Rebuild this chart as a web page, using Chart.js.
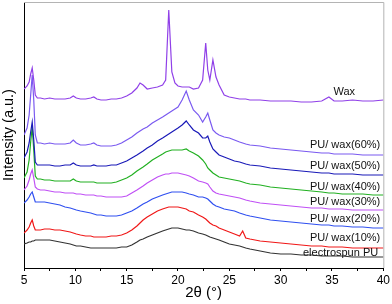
<!DOCTYPE html>
<html>
<head>
<meta charset="utf-8">
<script src="https://cdn.jsdelivr.net/npm/chart.js@4"></script>
<style>
  html, body { margin: 0; padding: 0; background: #fff; }
  #wrap { width: 392px; height: 304px; }
</style>
</head>
<body>
<div id="wrap"><canvas id="xrd"></canvas></div>
<script>
// 2θ grid (degrees)
const theta = [5, 5.3, 5.5, 5.65, 5.8, 5.95, 6.1, 6.3, 6.6, 7,
  7.5, 8, 8.5, 9, 9.5, 9.8, 10.1, 10.5, 11, 11.5,
  11.8, 12.1, 12.5, 13, 13.5, 14, 14.5, 15, 15.5, 16,
  16.3, 16.6, 17, 17.5, 18, 18.5, 18.8, 19.1, 19.4, 19.7,
  20, 20.4, 20.8, 21.1, 21.5, 22, 22.4, 22.7, 22.9, 23.1,
  23.4, 23.7, 24, 24.5, 25, 25.5, 26, 26.3, 26.6, 27,
  28, 29, 30, 31, 32, 33, 34, 34.7, 35.2, 36,
  37, 38, 39, 40];

// intensities (a.u., curves offset as in the figure)
const wax = [179, 182, 186, 194, 200, 188, 173, 170, 170, 169,
  170, 169, 169, 169, 170, 172, 170, 169, 169, 170,
  171, 169, 168, 168, 169, 169, 170, 172, 175, 180,
  185, 183, 179, 180, 181, 183, 188, 258, 196, 185,
  182, 181, 181, 181, 179, 180, 188, 225, 198, 188,
  208, 191, 183, 173, 171, 170, 169, 169, 169, 168,
  168, 167, 167, 167, 166, 166, 167, 171, 167, 167,
  168, 167, 167, 168];
const wax60 = [133, 140, 153, 173, 193, 168, 133, 125, 125, 124,
  125, 124, 124, 124, 125, 128, 125, 123, 123, 124,
  125, 123, 122, 122, 122, 123, 125, 128, 131, 135,
  137, 139, 141, 145, 148, 151, 153, 155, 157, 159,
  161, 168, 177, 168, 158, 153, 146, 151, 155, 148,
  138, 135, 133, 131, 130, 128, 126, 125, 124, 123,
  122, 120, 119, 118, 117, 116, 115, 115, 114, 114,
  114, 113, 113, 113];
const wax50 = [110, 116, 125, 136, 146, 128, 106, 103, 103, 103,
  103, 102, 102, 103, 103, 105, 103, 102, 102, 102,
  103, 102, 102, 102, 103, 103, 105, 107, 110, 113,
  115, 117, 120, 123, 127, 130, 132, 134, 136, 138,
  140, 143, 147, 143, 138, 135, 130, 130, 132, 126,
  119, 116, 113, 111, 109, 107, 106, 105, 104, 103,
  102, 100, 99, 98, 97, 96, 95, 95, 94, 94,
  94, 93, 93, 93];
const wax40 = [90, 96, 108, 126, 141, 118, 92, 89, 89, 88,
  88, 87, 87, 87, 87, 89, 87, 86, 86, 86,
  86, 85, 85, 85, 85, 86, 88, 90, 93, 97,
  99, 101, 104, 108, 111, 114, 116, 117, 118, 118,
  118, 118, 119, 117, 115, 112, 108, 104, 100, 98,
  95, 93, 91, 90, 89, 88, 87, 86, 85, 84,
  83, 81, 80, 79, 78, 77, 76, 75, 75, 74,
  74, 74, 73, 73];
const wax30 = [78, 82, 88, 94, 98, 90, 81, 79, 78, 78,
  77, 76, 76, 75, 75, 75, 74, 74, 73, 73,
  73, 72, 72, 71, 71, 71, 71, 72, 75, 78,
  80, 82, 85, 88, 91, 93, 94, 94, 95, 95,
  95, 94, 93, 92, 90, 87, 86, 85, 84, 81,
  77, 75, 74, 73, 72, 71, 70, 69, 68, 67,
  65, 64, 63, 62, 61, 60, 60, 59, 59, 59,
  58, 58, 58, 58];
const wax20 = [65, 68, 71, 74, 76, 71, 66, 66, 66, 66,
  65, 64, 63, 61, 60, 59, 58, 57, 56, 55,
  54, 53, 53, 52, 52, 52, 53, 55, 57, 60,
  62, 64, 66, 69, 71, 73, 74, 75, 76, 76,
  76, 76, 75, 74, 73, 71, 71, 70, 69, 67,
  64, 62, 61, 59, 58, 57, 55, 54, 53, 52,
  50, 48, 47, 46, 45, 44, 43, 43, 42, 42,
  41, 41, 40, 40];
const wax10 = [35, 38, 41, 45, 48, 42, 38, 38, 38, 39,
  39, 38, 38, 37, 36, 35, 34, 33, 32, 32,
  31, 31, 31, 31, 32, 32, 33, 35, 38, 42,
  45, 48, 51, 54, 57, 59, 60, 61, 61, 61,
  61, 60, 59, 57, 56, 53, 51, 49, 47, 45,
  43, 42, 40, 38, 36, 34, 32, 37, 30, 29,
  27, 26, 25, 24, 23, 22, 22, 21, 21, 21,
  20, 20, 20, 20];
const pu = [24, 25, 26, 26, 27, 27, 28, 28, 28, 28,
  28, 27, 26, 25, 24, 23, 22, 22, 21, 20,
  20, 20, 20, 20, 20, 20, 21, 21, 23, 26,
  28, 29, 31, 33, 35, 37, 38, 39, 40, 40,
  40, 39, 38, 38, 37, 35, 34, 33, 32, 31,
  30, 29, 28, 26, 24, 23, 22, 21, 20, 19,
  17, 15, 14, 14, 13, 13, 12, 12, 12, 12,
  11, 11, 11, 11];

const seriesNames = ['Wax', 'PU/ wax(60%)', 'PU/ wax(50%)', 'PU/ wax(40%)',
  'PU/ wax(30%)', 'PU/ wax(20%)', 'PU/ wax(10%)', 'electrospun PU'];
const seriesData = [wax, wax60, wax50, wax40, wax30, wax20, wax10, pu];
const cores = ['#9040e8', '#7a5af0', '#1a1ab8', '#22b022', '#c050f5', '#3050f0', '#f01818', '#333333'];

// onde ficam os rótulos (2θ, intensidade)
const rotulos = [
  { x: 36.2, y: 176, align: 'center' },
  { x: 39.7, y: 123, align: 'right' },
  { x: 39.7, y: 102, align: 'right' },
  { x: 39.7, y: 81, align: 'right' },
  { x: 39.7, y: 66, align: 'right' },
  { x: 39.7, y: 49, align: 'right' },
  { x: 39.7, y: 30, align: 'right' },
  { x: 39.5, y: 15, align: 'right' }
];

const datasets = seriesNames.map((nome, i) => ({
  label: nome,
  data: theta.map((t, j) => ({ x: t, y: seriesData[i][j] })),
  borderColor: cores[i],
  borderWidth: 1.2,
  pointRadius: 0,
  tension: 0,
  fill: false
}));

const moldura = {
  id: 'moldura',
  beforeDatasetsDraw(chart) {
    const { ctx, chartArea: a } = chart;
    ctx.save();
    ctx.strokeStyle = '#b4b4b4';
    ctx.lineWidth = 1;
    ctx.beginPath();
    ctx.moveTo(a.left, a.top + 0.5);
    ctx.lineTo(a.right + 0.5, a.top + 0.5);
    ctx.lineTo(a.right + 0.5, a.bottom);
    ctx.stroke();
    ctx.restore();
  }
};

const nomes = {
  id: 'nomes',
  afterDatasetsDraw(chart) {
    const { ctx, scales } = chart;
    ctx.save();
    ctx.font = '11px "Liberation Sans", Arial, sans-serif';
    ctx.fillStyle = '#111';
    ctx.textBaseline = 'middle';
    rotulos.forEach((r, i) => {
      ctx.textAlign = r.align;
      ctx.fillText(seriesNames[i], scales.x.getPixelForValue(r.x), scales.y.getPixelForValue(r.y));
    });
    ctx.restore();
  }
};

new Chart(document.getElementById('xrd').getContext('2d'), {
  type: 'line',
  data: { datasets },
  plugins: [moldura, nomes],
  options: {
    responsive: true,
    maintainAspectRatio: false,
    animation: false,
    layout: { padding: { top: 2, right: 8, left: 0, bottom: 0 } },
    plugins: { legend: { display: false }, tooltip: { enabled: false } },
    scales: {
      x: {
        type: 'linear',
        min: 5,
        max: 40,
        afterFit: s => { s.height = 36; },
        border: { color: '#000', width: 1 },
        grid: { drawOnChartArea: false, tickLength: 3, color: '#000' },
        ticks: {
          stepSize: 2.5,
          autoSkip: false,
          maxRotation: 0,
          padding: 2,
          color: '#000',
          font: { family: '"Liberation Sans", Arial, sans-serif', size: 12 },
          callback: v => (v % 5 === 0 ? String(v) : '')
        },
        title: {
          display: true,
          text: '2θ (°)',
          color: '#000',
          padding: { top: 0, bottom: 2 },
          font: { family: '"Liberation Sans", Arial, sans-serif', size: 15 }
        }
      },
      y: {
        min: 0,
        max: 266,
        afterFit: s => { s.width = 24; },
        border: { color: '#000', width: 1 },
        grid: { display: false },
        ticks: { display: false },
        title: {
          display: true,
          text: 'Intensity (a.u.)',
          color: '#000',
          padding: { top: 0, bottom: 0 },
          font: { family: '"Liberation Sans", Arial, sans-serif', size: 14.5 }
        }
      }
    }
  }
});
</script>
</body>
</html>
